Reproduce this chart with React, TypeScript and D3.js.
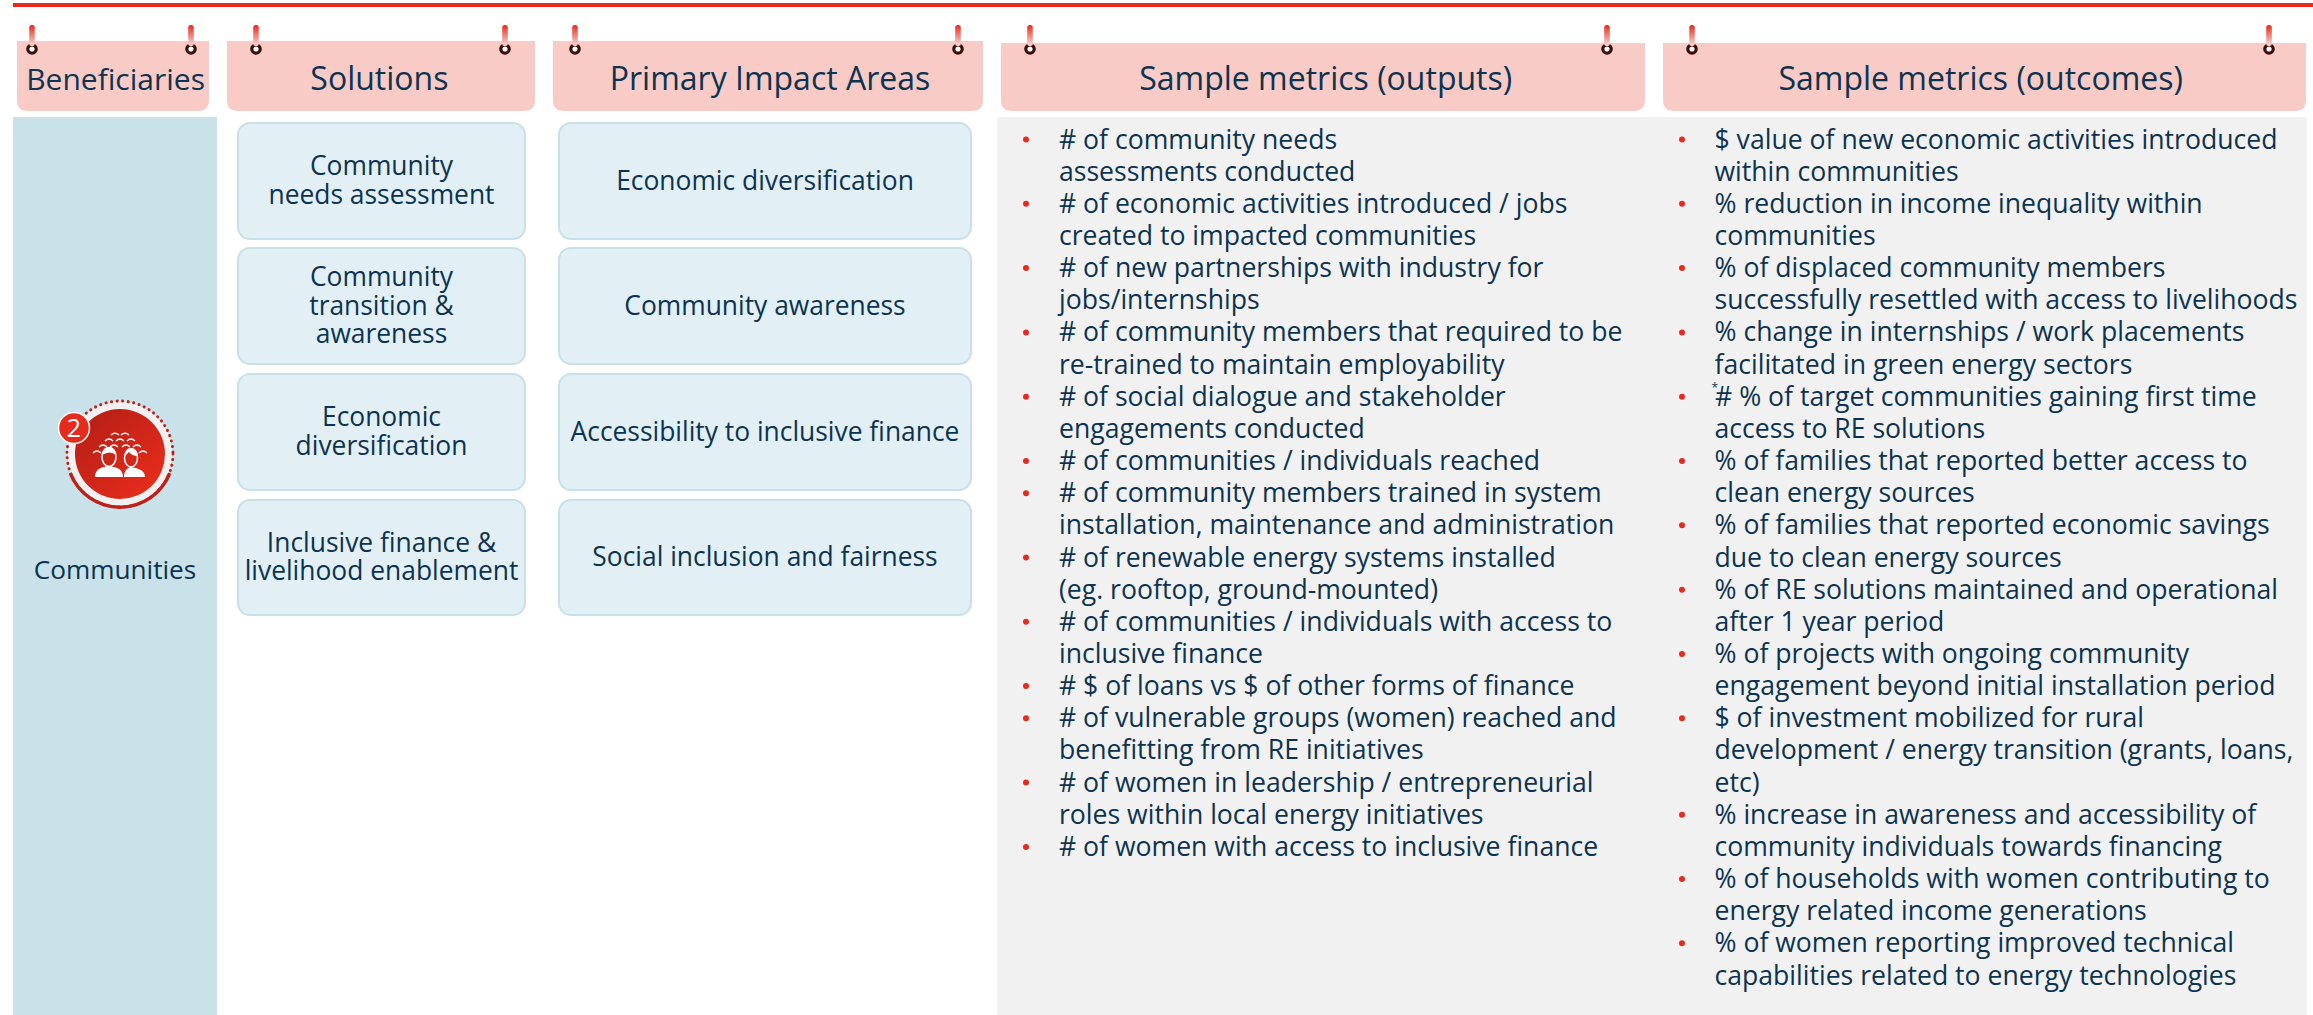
import React from "react";
import * as d3 from "d3";

const headers = ["Beneficiaries", "Solutions", "Primary Impact Areas", "Sample metrics (outputs)", "Sample metrics (outcomes)"];
const solutions = [["Community", "needs assessment"], ["Community", "transition &", "awareness"], ["Economic", "diversification"], ["Inclusive finance &", "livelihood enablement"]];
const impacts = ["Economic diversification", "Community awareness", "Accessibility to inclusive finance", "Social inclusion and fairness"];

const outputs: [number, string][] = [
  [1, "# of community needs"], [0, "assessments conducted"],
  [1, "# of economic activities introduced / jobs"], [0, "created to impacted communities"],
  [1, "# of new partnerships with industry for"], [0, "jobs/internships"],
  [1, "# of community members that required to be"], [0, "re-trained to maintain employability"],
  [1, "# of social dialogue and stakeholder"], [0, "engagements conducted"],
  [1, "# of communities / individuals reached"],
  [1, "# of community members trained in system"], [0, "installation, maintenance and administration"],
  [1, "# of renewable energy systems installed"], [0, "(eg. rooftop, ground-mounted)"],
  [1, "# of communities / individuals with access to"], [0, "inclusive finance"],
  [1, "# $ of loans vs $ of other forms of finance"],
  [1, "# of vulnerable groups (women) reached and"], [0, "benefitting from RE initiatives"],
  [1, "# of women in leadership / entrepreneurial"], [0, "roles within local energy initiatives"],
  [1, "# of women with access to inclusive finance"],
];
const outcomes: [number, string][] = [
  [1, "$ value of new economic activities introduced"], [0, "within communities"],
  [1, "% reduction in income inequality within"], [0, "communities"],
  [1, "% of displaced community members"], [0, "successfully resettled with access to livelihoods"],
  [1, "% change in internships / work placements"], [0, "facilitated in green energy sectors"],
  [1, "# % of target communities gaining first time"], [0, "access to RE solutions"],
  [1, "% of families that reported better access to"], [0, "clean energy sources"],
  [1, "% of families that reported economic savings"], [0, "due to clean energy sources"],
  [1, "% of RE solutions maintained and operational"], [0, "after 1 year period"],
  [1, "% of projects with ongoing community"], [0, "engagement beyond initial installation period"],
  [1, "$ of investment mobilized for rural"], [0, "development / energy transition (grants, loans,"], [0, "etc)"],
  [1, "% increase in awareness and accessibility of"], [0, "community individuals towards financing"],
  [1, "% of households with women contributing to"], [0, "energy related income generations"],
  [1, "% of women reporting improved technical"], [0, "capabilities related to energy technologies"],
];
const markedLine = 8;

// layout
const headerSize = [30, 32, 32, 32, 32];
const headerX0 = [17, 227, 553, 1001, 1663];
const headerX1 = [209, 535, 983, 1645, 2306];
const headerTop = [41, 41, 41, 43, 43];
const headerTextX = [115.6, 379.4, 770, 1325.7, 1980.7];
const pinX0 = [32, 256, 575, 1030, 1692];
const pinX1 = [191, 505, 958, 1607, 2269];
const cardTop = [123, 248, 374, 500];
const cardBottom = [239, 364, 490, 615];
const crowd = [[-5, -20], [5, -20], [-11, -14], [0, -14], [11, -14], [-17, -8], [-6, -8], [6, -8], [17, -8], [-23, -2], [23, -2]];

const INK = "#0c3350";
const FONT = "'Open Sans', sans-serif";
const lineY = d3.scaleLinear().domain([0, 26]).range([148.5, 984.5]);
const deg = Math.PI / 180;
const crescent = d3.arc()({ innerRadius: 51.5, outerRadius: 55, startAngle: 111 * deg, endAngle: 249 * deg } as any) as string;

function roundBottom(x0: number, x1: number, y0: number, y1: number, r: number) {
  const p = d3.path();
  p.moveTo(x0, y0); p.lineTo(x1, y0); p.lineTo(x1, y1 - r);
  p.quadraticCurveTo(x1, y1, x1 - r, y1); p.lineTo(x0 + r, y1);
  p.quadraticCurveTo(x0, y1, x0, y1 - r); p.closePath();
  return p.toString();
}

function Cards({ x0, x1, rows }: { x0: number; x1: number; rows: string[][] }) {
  return <g>{rows.map((lines, i) => {
    const mid = (cardTop[i] + cardBottom[i]) / 2;
    const start = mid + 8.5 - ((lines.length - 1) * 28.5) / 2;
    return <g key={i}>
      <rect x={x0} y={cardTop[i]} width={x1 - x0} height={cardBottom[i] - cardTop[i]} rx={12} fill="#e2eff5" stroke="#c8e1e8" strokeWidth={2} />
      {lines.map((l, j) => <text key={j} x={(x0 + x1) / 2} y={start + j * 28.5} textAnchor="middle" fontSize={26.4} fill={INK}>{l}</text>)}
    </g>;
  })}</g>;
}

function BulletList({ items, bx, tx, mark }: { items: [number, string][]; bx: number; tx: number; mark?: number }) {
  return <g>{items.map(([b, t], i) => <g key={i}>
    {b ? <circle cx={bx} cy={lineY(i) - 9} r={3} fill="#e52b1c" /> : null}
    <text x={tx} y={lineY(i)} fontSize={26.6} fill={INK}>
      {i === mark ? <><tspan fontSize={12} dx={-3} dy={-14}>*</tspan><tspan dx={-3} dy={14}>{t}</tspan></> : t}
    </text>
  </g>)}</g>;
}

export default function App() {
  return (
    <svg width={2313} height={1015} style={{ position: "absolute", left: 0, top: 0, fontFamily: FONT }}>
      <defs>
        <linearGradient id="pin" x1="0" y1="0" x2="0" y2="1">
          <stop offset="0" stopColor="#e52b1c" /><stop offset="1" stopColor="#f9dcd8" />
        </linearGradient>
        <linearGradient id="disc" x1="0.1" y1="0.1" x2="0.9" y2="0.9">
          <stop offset="0" stopColor="#b81f16" /><stop offset="1" stopColor="#e72c1b" />
        </linearGradient>
      </defs>
      <rect width={2313} height={1015} fill="#fff" />
      <rect x={13} y={3} width={2300} height={4} fill="#e52b1c" />

      {headers.map((h, i) => <g key={h}>
        <path d={roundBottom(headerX0[i], headerX1[i], headerTop[i], 111, 11)} fill="#f9cbc7" />
        <text x={headerTextX[i]} y={90} textAnchor="middle" fontSize={headerSize[i]} fill={INK}>{h}</text>
        {[pinX0[i], pinX1[i]].map((px, k) => <g key={k}>
          <circle cx={px} cy={49} r={4.2} fill="#fff" stroke="#3d0a08" strokeWidth={3.2} />
          <rect x={px - 2.8} y={25} width={5.6} height={21} rx={2.5} fill="url(#pin)" />
        </g>)}
      </g>)}

      <rect x={13} y={117} width={204} height={898} fill="#c9e2e9" />
      <rect x={997} y={117} width={1310} height={898} fill="#f1f1f1" />

      <Cards x0={238} x1={525} rows={solutions} />
      <Cards x0={559} x1={971} rows={impacts.map((s) => [s])} />

      <BulletList items={outputs} bx={1026} tx={1059} />
      <BulletList items={outcomes} bx={1682} tx={1714.5} mark={markedLine} />

      <g transform="translate(120,454)">
        <circle r={52} fill="#f1f1f1" />
        <path d={crescent} fill="#c0201a" />
        <circle r={53} fill="none" stroke="#c0201a" strokeWidth={3} strokeDasharray="0.1 5.5" strokeLinecap="round" />
        <rect x={-58} y={19} width={116} height={40} fill="none" />
        <circle r={45} fill="url(#disc)" />
        <g fill="#fff">
          <ellipse cx={-11} cy={3} rx={7} ry={9.5} fill="none" stroke="#fff" strokeWidth={1.5} />
          <ellipse cx={11} cy={4} rx={6.5} ry={9} fill="none" stroke="#fff" strokeWidth={1.5} />
          <path d="M-18 1 Q-17 -7 -11 -7 Q-5 -7 -4 1 Q-10 -4 -18 1 Z" />
          <path d="M5 2 Q5 -6 11 -6 Q17 -6 18 2 Q12 2 9 -2 Z" />
          <path d="M-25 23 C-25 14 -17 13 -11 12 C-5 13 3 14 3 23 Z" />
          <path d="M4 23 C4 16 8 14 11 13 C15 14 25 15 25 23 Z" />
        </g>
        <g fill="none" stroke="#fff" strokeWidth={1.2}>
          {crowd.map(([x, y], i) =>
            <path key={i} d={`M${x - 4} ${y + 1} Q${x} ${y - 3} ${x + 4} ${y + 1}`} />)}
        </g>
      </g>
      <circle cx={74} cy={428} r={15.5} fill="#e52b1c" stroke="#fff" strokeWidth={1.5} />
      <text x={74} y={437} textAnchor="middle" fontSize={25} fill="#fff">2</text>
      <text x={115} y={579} textAnchor="middle" fontSize={26.2} fill={INK}>Communities</text>
    </svg>
  );
}
